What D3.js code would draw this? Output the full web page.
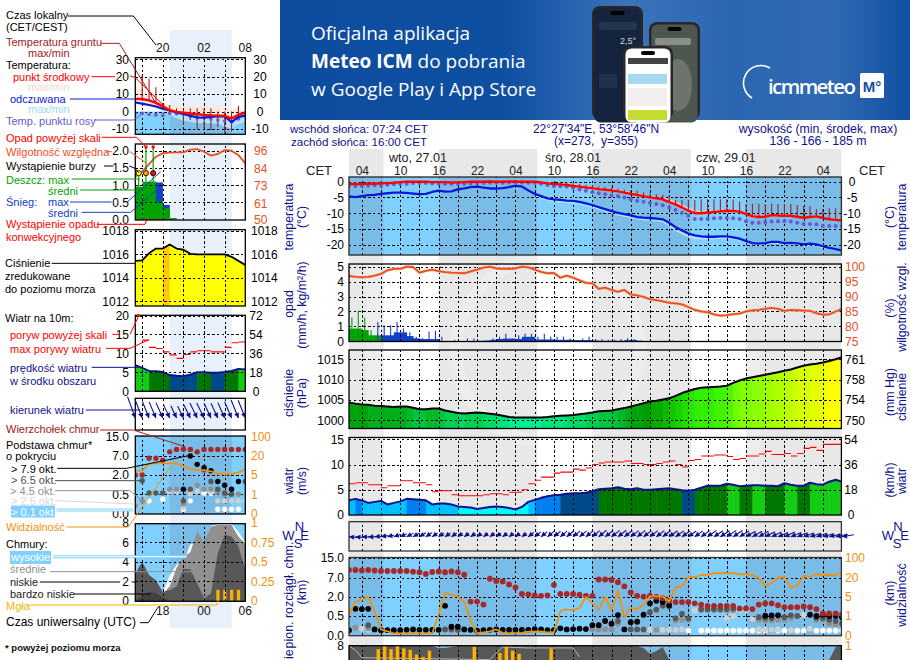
<!DOCTYPE html>
<html><head><meta charset="utf-8">
<style>
html,body{margin:0;padding:0;background:#fff;overflow:hidden}
svg{display:block;font-family:"Liberation Sans",Arial,sans-serif;font-size:12px}
.g line{stroke:#000;stroke-dasharray:2.4,2.4;stroke-width:1;shape-rendering:crispEdges}
</style>
<script src="https://cdnjs.cloudflare.com/ajax/libs/d3/7.8.5/d3.min.js"></script>
</head><body>
<script>
const n=null;
/* ---------- main chart, hourly from 02:00 on 27.01 ---------- */
const tempMid=[-0.8,-0.8,-0.8,-0.7,-0.7,-0.6,-0.5,-0.4,-0.2,-0.1,-0.1,-0.1,-0.1,-0.2,-0.2,-0.2,-0.3,-0.3,-0.2,-0.1,-0.1,-0.1,0,-0.1,-0.1,0,0,-0.1,-0.1,-0.1,-0.3,-0.6,-0.8,-0.9,-1.1,-1.4,-1.6,-1.9,-2.1,-2.4,-2.6,-2.8,-3.1,-3.5,-3.9,-4.2,-4.6,-5,-5.3,-5.6,-6.5,-7.2,-8.2,-9.2,-10,-10,-9.8,-9.6,-9.4,-9.2,-9.3,-9.5,-10.3,-10.9,-11.2,-11.1,-10.6,-10.7,-10.8,-10.8,-11.1,-11.4,-11.2,-11,-11.5,-11.9,-12.1,-12.3];
const tempMax=[-0.5,-0.5,-0.5,-0.4,-0.4,-0.3,-0.2,-0.1,0.1,0.2,0.2,0.2,0.2,0.1,0.1,0.1,0,0,0.1,0.2,0.2,0.2,0.3,0.2,0.2,0.3,0.3,0.2,0.2,0.2,0,-0.2,-0.4,-0.5,-0.7,-0.9,-1.1,-1.4,-1.6,-1.9,-2.1,-2.3,-2.6,-3,-3.4,-3.7,-4.1,-4.5,-4.8,-5,-5.6,-6.3,-7.2,-8.3,-9.1,-9.2,-9.1,-9,-8.9,-8.8,-8.9,-9.1,-9.7,-10.3,-10.7,-10.6,-10.2,-10.3,-10.4,-10.4,-10.7,-11,-10.8,-10.7,-11.1,-11.5,-11.7,-11.9];
const tempMin=[-1.1,-1.1,-1.1,-1,-1,-0.9,-0.8,-0.7,-0.5,-0.4,-0.4,-0.4,-0.4,-0.5,-0.5,-0.5,-0.6,-0.6,-0.5,-0.4,-0.4,-0.4,-0.3,-0.4,-0.4,-0.3,-0.3,-0.4,-0.4,-0.4,-0.6,-0.9,-1.1,-1.2,-1.4,-1.7,-1.9,-2.2,-2.4,-2.7,-2.9,-3.1,-3.4,-3.8,-4.2,-4.5,-4.9,-5.3,-5.6,-5.9,-6.8,-7.5,-8.5,-9.5,-10.3,-10.3,-10.1,-9.9,-9.7,-9.5,-9.6,-9.8,-10.6,-11.2,-11.5,-11.4,-10.9,-11,-11.1,-11.1,-11.4,-11.7,-11.5,-11.3,-11.8,-12.2,-12.4,-12.6];
const groundMax=[-0.3,-0.3,-0.3,-0.2,-0.2,-0.1,0,0.1,0.2,0.2,0.2,0.2,0.2,0.1,0.1,0.1,0,0,0.1,0.2,0.2,0.2,0.3,0.2,0.2,0.3,0.3,0.2,0.2,0.2,0,-0.1,-0.2,-0.2,-0.3,-0.6,-0.8,-1,-1.2,-1.5,-1.7,-1.9,-2.2,-2.6,-2.8,-2.9,-3.4,-3.8,-4,-4.2,-4.5,-5.8,-5.8,-5.8,-5.8,-5.6,-5.6,-5.6,-5.6,-5.6,-5.7,-6.3,-7,-7,-7,-7.2,-7,-7.1,-7.1,-7.1,-7.4,-7.7,-7.7,-8.7,-8.7,-8.4,-8.4,-9];
const dewPoint=[-1.3,-1.4,-1.3,-1.3,-1.2,-1.2,-1,-0.9,-0.8,-0.7,-0.5,-0.5,-0.5,-0.6,-0.7,-0.7,-0.7,-0.8,-0.7,-0.6,-0.5,-0.5,-0.4,-0.4,-0.4,-0.3,-0.2,-0.3,-0.4,-0.4,-0.7,-1.1,-1.4,-1.5,-1.6,-2,-2.5,-2.9,-3.4,-3.7,-4,-4.3,-4.6,-5,-5.6,-6.1,-6.4,-6.8,-7.1,-7.5,-8.2,-9,-9.9,-10.8,-11.8,-11.8,-11.7,-11.6,-11.5,-11.5,-11.6,-11.8,-12.5,-13,-13,-12.8,-12.6,-12.5,-12.5,-12.6,-13,-13.4,-13.4,-13.5,-14,-14,-14,-14];
const feels=[-4.7,-4.9,-4.6,-4.3,-4.2,-3.9,-3.7,-3.5,-3.5,-3.6,-3.8,-4,-3.9,-3.3,-2.9,-3.2,-3.1,-2.5,-2.2,-1.8,-1.6,-1.9,-2.2,-2.2,-2.1,-1.8,-1.3,-1.6,-2.8,-3.9,-4.6,-5.3,-5.6,-5.8,-6,-6.1,-6.4,-6.9,-7.4,-8.1,-8.7,-9.3,-9.9,-10.3,-10.7,-11.2,-11.4,-11.5,-11.7,-11.9,-13,-14.4,-15.4,-16.4,-17,-17.3,-17.4,-17.4,-17.3,-17.3,-17.6,-18,-18.8,-19.4,-19.6,-19.4,-19,-19,-19.4,-19.3,-19.5,-19.8,-19.6,-19.8,-20.4,-20.9,-21.3,-21.8];
const feelsLow=[-5,-5.2,-4.9,-4.6,-4.5,-4.2,-4,-3.8,-3.8,-3.9,-4.1,-4.3,-4.2,-3.6,-3.2,-3.5,-3.4,-2.8,-2.5,-2.1,-1.9,-2.2,-2.5,-2.5,-2.4,-2.1,-1.6,-2,-3.4,-4.6,-5.4,-6.1,-6.4,-6.6,-6.8,-6.9,-7.2,-7.7,-8.2,-8.9,-9.5,-10.1,-10.7,-11.1,-11.5,-12,-12.2,-12.3,-12.5,-12.8,-14.1,-15.6,-16.6,-17.6,-18.1,-18.2,-18.2,-18.1,-18,-18,-18.3,-18.7,-19.5,-20,-20.2,-20,-19.6,-19.6,-20,-19.9,-20.1,-20.4,-20.2,-20.4,-21,-21.4,-21.8,-22.2];
const humidity=[96.9,96.6,96.5,96.6,97,97.6,98.8,99.3,99.3,100,99.9,98,98.6,99,98.5,98.2,98,97.9,97.8,98.4,99,99.7,100,99.4,99.3,99.3,99.4,100,99.8,99,98.3,97.8,97.9,96.3,97,96.3,95.4,94.6,94.4,92.6,93,92.2,91.6,92.2,90.7,90.4,89.9,89.1,88.8,88.4,87.9,87.7,87.4,86.5,85.5,85,84.7,84,83.6,83.8,84.1,84.3,85,85.4,85.5,85.9,86.2,85.9,85.2,85.5,85.4,85.3,85.2,84.4,83.9,84,85,85.9];
const rainMean=[0.85,0.85,0.75,0.4,0.4,0.3,0.25,0.05];
const rainTop=[1.6,2.07,1.6,0.75,0.5];
const snowMean=[[5,.4],[6,.4],[7,.6],[8,.6],[9,.35],[10,.2],[11,.15],[12,.15],[13,.15],[14,.02],[15,.02],[16,.02],[17,.02],[18,.02],[19,.02],[20,.03],[21,.05],[22,.1],[23,.15],[24,.18],[25,.18],[26,.15],[27,.3],[28,.3],[29,.12],[30,.12],[31,.12],[32,.1],[33,.1],[34,.1],[35,.08],[36,.08],[37,.08],[38,.05],[39,.03],[40,.03],[41,.03],[42,.03],[43,.08],[44,.08],[45,.03],[46,.02]];
const snowTop=[[4,1.3],[5,1.07],[6,1.07],[7,1.3],[8,.85],[9,.6],[10,.3],[11,.2],[12,.65],[13,.7],[14,.3],[16,.1],[18,.18],[19,.18],[22,.18],[23,.3],[24,.5],[25,.18],[26,.4],[27,.5],[28,.5],[29,.3],[30,.5],[31,.3],[32,.3],[33,.33],[34,.18],[36,.18],[37,.3],[38,.15],[39,.15],[40,.1],[41,.1],[42,.15],[43,.2],[44,.15],[45,.05],[50,.05]];
const pressure=[1004.4,1004.1,1003.9,1003.8,1003.6,1003.5,1003.4,1003.3,1003.4,1003.4,1003.1,1002.7,1002.7,1002.9,1002.9,1002.4,1002.1,1001.8,1001.7,1001.8,1001.9,1001.8,1001.6,1001.4,1001.1,1000.8,1000.7,1000.7,1000.7,1000.7,1000.7,1000.8,1001,1001.1,1001.2,1001.3,1001.5,1001.7,1001.9,1002.2,1002.3,1002.4,1002.7,1003,1003.4,1003.8,1004.2,1004.6,1004.8,1005.1,1005.4,1006,1006.7,1007.2,1007.7,1008,1008.1,1008.2,1008.3,1008.5,1009.2,1009.8,1010.3,1010.6,1010.9,1011.2,1011.5,1011.8,1012.2,1012.5,1013,1013.4,1013.7,1013.9,1014.2,1014.6,1015,1015.5];
const wind=[2.9,3.2,2.9,2.4,2.6,2.8,2.1,2.4,2.7,3.2,3.1,3,2.9,2.1,2.3,2.3,2.1,1.7,1.6,1.5,1.2,1.4,1.6,1.7,1.6,1.4,1.1,1.6,2.6,3,3.4,3.7,3.9,4,4.2,4.3,4.3,4.4,4.7,5.1,5.2,5.3,5.5,5.2,5.1,5.3,5,5,5.1,5.2,5.3,5.1,4.9,4.8,5,5.4,5.8,5.8,5.8,6.2,6,5.7,5.8,5.9,5.9,5.8,5.8,5.7,6.3,6,5.8,5.8,6.4,6.1,6,6.6,7,6.6];
const gust=[6.2,6.4,6.4,6,6,5.4,5.8,5.8,6.8,6.8,6.4,6.4,6,4.6,4.8,4.8,4,3.8,3.8,3.8,3.8,4,4.2,4.2,4,4.5,4.5,5,6.2,6.9,7.5,7.5,8.3,8.5,8.5,9.1,8.9,9.3,10,10.3,10.5,10.5,10.5,10.7,10.2,10.2,10,10,10.2,10.5,10.7,10,9.5,10.8,11,11.7,11.7,11.9,11.9,11.6,11,11.2,11.7,11.7,12.1,12.6,12,12,12.2,11.7,12.2,13.2,13.4,12.8,14,14,14];
const direction=[95,95,92,90,85,80,75,70,65,62,60,58,56,55,55,54,54,53,53,55,52,52,52,52,52,52,52,52,52,52,50,50,50,50,50,50,50,50,50,50,52,52,52,52,52,52,52,52,52,52,54,54,54,54,54,54,54,56,56,56,56,58,60,60,60,62,64,66,66,68,68,70,72,72,74,76,78,80];
const cloudTop=[10.2,10.2,10,10.2,10,9.8,9.8,9.8,9.8,9.8,9.5,9.3,8.6,9.4,9.6,9.3,9.6,9.3,8.3,1.64,1.64,1.4,6.8,6.2,6.1,5.3,4.5,2.8,2.7,2.4,2.3,2.4,5.2,2.8,2.8,2.8,2.6,2.3,2.3,6.6,6.6,6.5,5.9,4.8,3.2,2.3,2.1,2.3,2,1.9,1.7,1.6,1.6,1.6,1.5,1.4,1.3,1.3,1.3,1.3,1.3,1.1,1.1,1.05,1.4,1.5,1.5,1.35,1.2,1.2,1.2,1.25,1.2,1.05,.7,.7,.7,.65];
const base79=[.13,1.07,1.05,1.07,.15,.13,.13,.13,.13,.14,.15,.14,.14,.14,.14,1.3,.22,.22,.15,.14,.12,.13,.14,.15,.14,.14,.14,.14,.14,.16,.15,.13,.13,.18,.15,.16,.17,.16,.26,.26,.37,.3,.57,.15,.34,.35,.6,1.5,1.7,1.6,1.35,n,n,n,n,n,n,n,n,n,n,n,n,n,n,.52,.55,.55,n,n,n,n,.6,.5,.6,.5,.52,.46];
const base65=[[3,.26],[15,.15],[16,.16],[17,.14],[42,.37],[44,.15],[45,.15],[46,.15],[47,.8],[48,1],[49,1.3],[50,1.25],[51,.44],[52,.67],[53,.44],[55,1.05],[56,1.05],[57,1.05],[58,1.05],[59,1.05],[60,1.1],[64,.47],[65,.45],[66,.44],[68,.47],[69,.55],[70,.5],[73,.45],[74,.45],[75,.4],[76,.37],[77,.3]];
const base45=[[1,.19],[3,.18],[15,.15],[16,.13],[17,.13],[38,.15],[39,.15],[40,.15],[41,.15],[42,.3],[48,.14],[51,.38],[52,.4],[53,.4],[55,.95],[56,.95],[57,.95],[58,.95],[59,.95],[60,.95],[64,.4],[65,.38],[66,.38],[67,.4],[68,.4],[69,.45],[73,.4],[74,.4],[75,.3],[76,.28]];
const base25=[[2,.17],[3,.14],[43,.14],[47,.14],[48,.14],[49,.14],[50,.14],[51,.14],[52,.15],[54,.95],[55,1],[59,.45],[60,.52],[61,1],[62,1],[63,.42],[64,.15],[65,.14],[66,.14],[67,.15],[69,.13],[71,.6],[72,.17]];
const base01=[[53,.12],[55,.12],[56,.12],[57,.12],[58,.12],[59,.12],[60,.12],[61,.12],[62,.12],[63,.12],[64,.12],[65,.12],[67,.12],[68,.12],[70,.12],[71,.12],[73,.12],[74,.12],[75,.12],[76,.12],[77,.12]];
const visibility=[1.35,4,4.4,5.5,2,.3,.2,.1,.1,.1,.1,.1,.1,.1,1.3,8.2,6.8,5.5,4,.75,.1,.15,.2,.3,.12,.1,.1,.12,.18,.18,.2,.15,.14,2,2.4,2.2,2.7,5,3.7,2.4,5,2.2,10,.95,2.7,2.4,3.3,5.5,5.5,5.5,4,12.6,13.4,25,24,32,33,39,39,40,40,35,35,32,20,14,16,21,24,12.6,14,28,25,36,32,33,30,49];
const lowCover=[8,8,8,8,8,8,8,8,8,8,8,8,8,8,7.8,7.8,7.9,8,8,8,8,8,8,8,8,8,8,8,8,8,8,8,8,8,8,8,8,8,8,8,8,8,8,8,8,8,7.8,7.2,7.5,7.9,6.6,6,6,6,6,6,6,6,6,6,6,6,6,6,6,6,6,6,6,6,6,6,6,6,6.3,6.6,7.9,8];
const highCover=[[0,8],[1,7.6],[2,6.8],[22,6.6],[23,7.3],[24,7.9],[28,7.8],[33,7.8],[35,7.8],[36,6.9]];
const fog=[[4,.96],[5,1],[6,.96],[7,1],[8,.97],[9,.95],[10,.89],[11,.86],[12,.94],[19,.99],[23,.91],[24,.99],[25,.94],[26,.9],[31,.97]];
const nightEdges=[0,5.4,14,29.4,38,53.4,62,76.9];
/* ---------- legend chart, 17 hours ---------- */
const legMid=[7.3,7.2,6.4,5,3,.8,-.2,-.6,-1.1,-1.5,-1.9,-2.2,-2.3,-2.5,-4,-1.9,-.4];
const legMax=[14,12.5,8.7,6.7,4.8,3.8,3.3,2.9,2.9,2.9,2.9,2.5,2.5,1.9,1,1.9,0];
const legMin=[5.8,4.8,3.3,1.9,0,-.6,-1.3,-2.9,-3.8,-4.4,-4.4,-4.8,-4.4,-4.4,-6.3,-3.3,-1.9];
const legFeels=[5.2,4.6,3.8,2.9,1.6,.6,-.5,-1.3,-2.4,-3.3,-3.5,-3,-2.6,-2.7,-6,-3,-2.3];
const legFeelsLow=[5.2,4.6,3.8,2.9,0,-1.9,-3.8,-5.2,-5.8,-6.7,-6.7,-6.7,-7.1,-8.7,-9.6,-7.1,-5.8];
const legDew=[-1,-1,-1.5,-1.9,-2.3,-1,-1.3,-1.5,-2.9,-3.7,-3.5,-4.2,-4.8,-5.4,-6,-4.2,-2.5];
const legGroundTop=[n,21,19,14,5,3.8,1.9,1,1.9,1.9,1.9,1.9,0,0,0,3.2,0];
const legGroundLow=[n,7.2,6.7,4.8,2,-1.9,-1.9,-7.7,-4.8,-10.6,-9.6,-10.6,-8.7,-12.5,-11.5,-3.9,-2.9];
const legHumidity=[78.7,82,87,92,94.2,94.7,94.9,94.9,96.7,97,95.3,92.7,93.8,96.4,96,93,87.5];
const legRain=[.96,1.1,1.1,.52,.33,.05];
const legSnow=[n,n,n,1.08,.43];
const legRainTop=[1.35,2.1,2.1];
const legStorm=["#ffff00","#ffa500","#ff0000"];
const legPressure=[1015.45,1015.5,1016.1,1016.5,1016.5,1016.85,1016.5,1016.4,1016.05,1016,1016,1016,1016,1016,1015.8,1015.45,1015.1];
const legWind=[6.9,6.2,5.4,5.3,5.1,4.3,4.1,4,4.4,5.05,5.05,4.9,4.9,5.1,5.4,5.9,5.8];
const legGust=[n,13.5,11.6,11.3,10.4,9.6,8.7,9.7,10.4,10.7,10.7,10.4,10.4,11.6,12.8,13];
const legDir=[340,339,338,337,336,335,335,334,334,334,334,335,335,336,337,338,338];
const legTop=[2,2,6.4,6.4,5.9,8.7,9.7,9.8,9.7,8.7,9.7,9.7,9.7,9.7,9.7,9.7,9.7];
const leg79=[n,n,n,n,n,n,n,.9,7,4.8,3.9,3.1,1.5,1.2,.9,1.5,n];
const leg65=[n,1.55,.6,.6,.6,n,n,.33,.9,n,3.3,1.5,.9,.6,.5,n,1.5];
const leg45=[.2,.33,n,n,n,.9,.9,.25,n,1.2,.9,.9,.7,.5,.5,.5,n];
const leg25=[.2,n,n,n,n,.7,.7,.15,.55,.75,n,.7,.33,.33,.33,.33,.33];
const leg01=[n,n,.33,n,.37,n,n,.11,.33,n,.6,.6,.11,.11,.11,.11,n];
const legVis=[8.4,8.4,13.7,14.2,14.2,14.2,14.2,12,9.5,9,8.8,7.8,6,5.8,5.8,7,9.5];
const legVeryLow=[0,.5,.9,.8,.3,0,0,0,0,0,0,0,0,0,0,0,0];
const legLow=[2.8,4,2.65,2.1,.9,1.1,1.45,3.3,3.2,1.8,.25,.75,4.9,6.8,6.6,5.6,3.2];
const legMidC=[0,0,0,0,.7,1.5,3.4,4.5,5,7.1,6.1,7.65,7.8,7.8,7.8,6.6,5.9];
const legHigh=[0,0,0,0,.9,2.6,3.7,4,5.8,5.8,5.9,7.7,7.9,7.9,7.9,7.1,6];
const legFog=[[12,.14],[13,.14],[14,.14],[15,.14]];
/* ---------- tick labels ---------- */
const hourTicks=[2,8,14,20,26,32,38,44,50,56,62,68,74];
const hourLabels=["04","10","16","22","04","10","16","22","04","10","16","22","04"];
const gridHours=d3.range(2,77,3);
const legGridHours=[1,4,7,10,13];
const legTimeTop=["20","02","08"], legTimeBottom=["18","00","06"], legTimePos=[4,10,16];
const baseTicks=[0,.5,2,7,15], visTicks=[0,1,5,20,100];

/* ---------- colours ---------- */
const C={navy:"#10108c",day:"#80d0ff",night:"#7abce8",red:"#ff0000",dark:"#a42020",feels:"#0418d8",dew:"#6a5acd",rh:"#e8501e",vis:"#f09010",green:"#00a400",snow:"#1040cc",fog:"#ffb000"};
const pressColor=d3.scaleLinear()
  .domain([1000.5,1002,1003,1004.4,1006,1008,1010.5,1013,1015,1016.7,1016.8])
  .range(["#00f090","#00d050","#00b828","#009a00","#10c800","#30f000","#80ff00","#c8ff00","#ffff00","#ffff00","#ffdc00"]);
const windColor=d3.scaleThreshold().domain([2,3,4,5,5.85])
  .range(["#00f8ff","#00c0ff","#0080f0","#004a8a","#007800","#14cc14"]);

const svg=d3.select("body").append("svg").attr("width",910).attr("height",660);
const defs=svg.append("defs");
svg.append("rect").attr("width",910).attr("height",660).attr("fill","#fff");

/* ---------- helpers ---------- */
let uid=0;
function txt(x,y,s,o={}){
  const e=(o.g||svg).append("text").attr("x",x).attr("y",y).text(s).attr("fill",o.fill||"#000")
   .attr("font-size",o.size||12).attr("text-anchor",o.anchor||"start");
  if(o.weight)e.attr("font-weight",o.weight);
  if(o.family)e.attr("font-family",o.family);
  return e;
}
function vtxt(x,y,s,o={}){
  return txt(0,0,s,Object.assign({fill:C.navy,size:12.4,anchor:"middle"},o)).attr("transform",`translate(${x},${y}) rotate(-90)`);
}
function clipped(x,top,bottom){
  const id="c"+(++uid);
  defs.append("clipPath").attr("id",id).append("rect").attr("x",x.range()[0]).attr("y",top)
    .attr("width",x.range()[1]-x.range()[0]).attr("height",bottom-top);
  return svg.append("g").attr("clip-path",`url(#${id})`);
}
function grid(g,x,y,top,bottom,xt,yt){
  g.append("g").attr("class","g").attr("transform",`translate(0,${bottom})`)
   .call(d3.axisBottom(x).tickValues(xt).tickSize(-(bottom-top)).tickFormat(""))
   .call(s=>s.select(".domain").remove());
  if(yt&&yt.length) g.append("g").attr("class","g").attr("transform",`translate(${x.range()[0]},0)`)
   .call(d3.axisLeft(y).tickValues(yt).tickSize(-(x.range()[1]-x.range()[0])).tickFormat(""))
   .call(s=>s.select(".domain").remove());
}
function border(x,top,bottom,c="#000",w=1.3){
  svg.append("rect").attr("x",x.range()[0]).attr("y",top).attr("width",x.range()[1]-x.range()[0])
    .attr("height",bottom-top).attr("fill","none").attr("stroke",c).attr("stroke-width",w);
}
function axis(side,scale,ticks,pos,o={}){
  const a=(side==="l"?d3.axisLeft(scale):d3.axisRight(scale)).tickValues(ticks).tickSize(0).tickPadding(0);
  a.tickFormat(o.fmt||(d=>String(d)));
  const g=svg.append("g").attr("transform",`translate(${pos},0)`).call(a);
  g.select(".domain").remove();
  g.selectAll("text").attr("fill",o.color||"#000").attr("font-size",o.size||12).attr("font-family","inherit");
  if(o.anchor)g.selectAll("text").attr("text-anchor",o.anchor);
}
function band(g,x,y,hi,lo,fill){
  g.append("path").datum(hi.map((v,i)=>[i,v,lo[i]]))
   .attr("d",d3.area().x(d=>x(d[0])).y0(d=>y(d[1])).y1(d=>y(d[2]))).attr("fill",fill);
}
function line(g,x,y,vals,c,w){
  g.append("path").datum(vals.map((v,i)=>[i,v])).attr("fill","none").attr("stroke",c).attr("stroke-width",w)
   .attr("stroke-linejoin","round").attr("d",d3.line().defined(d=>d[1]!=null).x(d=>x(d[0])).y(d=>y(d[1])));
}
function colored(g,x,y,vals,color,bottom){
  const id="c"+(++uid);
  defs.append("clipPath").attr("id",id).append("path").datum(vals.map((v,i)=>[i,v]))
   .attr("d",d3.area().x(d=>x(d[0])).y0(bottom).y1(d=>y(d[1])));
  const s=g.append("g").attr("clip-path",`url(#${id})`);
  s.selectAll("rect").data(vals.slice(0,-1)).join("rect")
   .attr("x",(d,i)=>x(i)).attr("width",(d,i)=>x(i+1)-x(i)+.5).attr("y",y.range()[1]-10)
   .attr("height",bottom-y.range()[1]+10).attr("fill",(d,i)=>color(i));
}
function dots(g,x,y,pairs,fill,r){
  g.selectAll(null).data(pairs.filter(d=>d[1]!=null)).join("circle")
   .attr("cx",d=>x(d[0])).attr("cy",d=>y(d[1])).attr("r",r).attr("fill",fill);
}
const pairs=a=>a.map((v,i)=>[i,v]);
function nightShade(g,x,edges,top,bottom){
  g.append("rect").attr("x",x.range()[0]).attr("y",top).attr("width",x.range()[1]-x.range()[0]).attr("height",bottom-top).attr("fill",C.day);
  for(let k=0;k<edges.length-1;k+=2)
    g.append("rect").attr("x",x(edges[k])).attr("y",top).attr("width",x(edges[k+1])-x(edges[k])).attr("height",bottom-top).attr("fill",C.night);
}
function arrows(x,cy,dirs,len){
  const g=svg.append("g");
  dirs.forEach((d,i)=>{
    const a=d*Math.PI/180, sx=Math.sin(a), sy=-Math.cos(a), px=x(i), L=len(i);
    g.append("line").attr("x1",px).attr("y1",cy).attr("x2",px+L*sx).attr("y2",cy+L*sy).attr("stroke",C.navy).attr("stroke-width",1.1);
    const b=5,w=2.6,hx=px+b*sx,hy=cy+b*sy;
    g.append("polygon").attr("fill",C.navy)
     .attr("points",`${px},${cy} ${hx-w*sy},${hy+w*sx} ${hx+w*sy},${hy-w*sx}`);
  });
}

/* ---------- banner ---------- */
const gr=defs.append("linearGradient").attr("id","ban");
[[0,"#0d4c9e"],[.36,"#0f4fa2"],[.55,"#3b74bb"],[.72,"#2b66b0"],[.88,"#2f6ab3"],[1,"#104fa2"]]
  .forEach(s=>gr.append("stop").attr("offset",s[0]).attr("stop-color",s[1]));
svg.append("rect").attr("x",280).attr("y",0).attr("width",630).attr("height",120).attr("fill","url(#ban)");
const BF="'Open Sans',sans-serif";
txt(311,40,"Oficjalna aplikacja",{fill:"#fff",size:19,family:BF});
const l2=txt(311,68,"",{fill:"#fff",size:19,family:BF});
l2.append("tspan").attr("font-weight",700).text("Meteo ICM");
l2.append("tspan").text(" do pobrania");
txt(311,96,"w Google Play i App Store",{fill:"#fff",size:19,family:BF});
const ph=svg.append("g");
function phone(x,y,w,h,scr){
  ph.append("rect").attr("x",x).attr("y",y).attr("width",w).attr("height",h).attr("rx",8).attr("fill","#26282c");
  ph.append("rect").attr("x",x+2.5).attr("y",y+2.5).attr("width",w-5).attr("height",h).attr("rx",6).attr("fill",scr);
  ph.append("rect").attr("x",x+w/2-7).attr("y",y+5).attr("width",14).attr("height",4).attr("rx",2).attr("fill","#000");
}
phone(592,6,51,114,"#14243c");
ph.append("rect").attr("x",599).attr("y",22).attr("width",38).attr("height",8).attr("rx",2).attr("fill","#24344c");
txt(620,44,"2,5°",{fill:"#cfd8e4",size:9,g:ph});
ph.append("rect").attr("x",599).attr("y",74).attr("width",18).attr("height",14).attr("fill","#20304a");
phone(649,22,51,98,"#4e5650");
ph.append("rect").attr("x",655).attr("y",38).attr("width",36).attr("height",7).attr("rx",2).attr("fill","#8a8f8a");
ph.append("ellipse").attr("cx",678).attr("cy",85).attr("rx",14).attr("ry",26).attr("fill","#6e746c");
phone(623,46,50,74,"#ffffff");
ph.append("rect").attr("x",628).attr("y",58).attr("width",40).attr("height",6).attr("fill","#444");
ph.append("rect").attr("x",628).attr("y",74).attr("width",39).attr("height",10).attr("fill","#a6d8ef");
ph.append("rect").attr("x",628).attr("y",88).attr("width",39).attr("height",18).attr("fill","#f4eeee");
ph.append("rect").attr("x",628).attr("y",110).attr("width",39).attr("height",10).attr("fill","#c4dc30");
txt(768,94,"icmmeteo",{fill:"#fff",size:20.5,weight:600,family:BF}).attr("textLength",88);
svg.append("path").attr("d","M770,68 A17,17 0 0 0 752,98").attr("fill","none").attr("stroke","#fff").attr("stroke-width",1.6);
svg.append("rect").attr("x",860).attr("y",73).attr("width",24).attr("height",25).attr("rx",1.5).attr("fill","#fff");
txt(872,92,"M°",{fill:"#1650a0",size:15,weight:700,anchor:"middle"});

/* ---------- legend column ---------- */
const lx=d3.scaleLinear().domain([0,16]).range([135.3,245.3]);
svg.append("rect").attr("x",lx(5.05)).attr("y",30).attr("width",lx(14.03)-lx(5.05)).attr("height",598).attr("fill","#e8f0fc");

/* ---------- main bands ---------- */
const mx=d3.scaleLinear().domain([0,76.9]).range([349,841.4]);
for(let k=0;k<nightEdges.length-1;k+=2)
  svg.append("rect").attr("x",mx(nightEdges[k])).attr("y",149).attr("width",mx(nightEdges[k+1])-mx(nightEdges[k])).attr("height",511).attr("fill","#e8e8e8");
svg.append("circle").attr("cx",548).attr("cy",350).attr("r",92).attr("fill","none").attr("stroke","#fff").attr("stroke-width",12).attr("opacity",.22);
svg.append("path").attr("d","M374,262 V440 M712,350 V500 M752,350 V500").attr("fill","none").attr("stroke","#fff").attr("stroke-width",16).attr("opacity",.22);

/* ---------- main: temperature ---------- */
{
 const top=177,bot=255,y=d3.scaleLinear().domain([0,-20]).range([181.5,245]);
 const g=clipped(mx,top,bot);
 nightShade(g,mx,nightEdges,top,bot);
 band(g,mx,y,tempMax,tempMin,"#f8c8c8");
 band(g,mx,y,feels,feelsLow,"#b4e2ff");
 grid(g,mx,y,top,bot,gridHours,[0,-5,-10,-15,-20]);
 g.selectAll(null).data(groundMax).join("line").attr("x1",(d,i)=>mx(i)).attr("x2",(d,i)=>mx(i))
  .attr("y1",(d,i)=>y(tempMid[i])).attr("y2",d=>y(d)).attr("stroke",C.dark).attr("stroke-width",1.1);
 dots(g,mx,y,pairs(dewPoint),C.dew,2);
 line(g,mx,y,feels,C.feels,2.3);
 line(g,mx,y,tempMid,C.red,2.4);
 border(mx,top,bot,"#333",1.4);
 axis("l",y,[0,-5,-10,-15,-20],344);
 axis("r",y,[0,-5,-10,-15,-20],852,{anchor:"middle"});
}
/* ---------- main: precipitation and humidity ---------- */
{
 const top=264,bot=341.5,y=d3.scaleLinear().domain([0,5]).range([341.3,266.7]);
 const rh=d3.scaleLinear().domain([75,100]).range([341.3,266.7]);
 const g=clipped(mx,top,bot);
 g.selectAll(null).data(rainMean).join("rect").attr("x",(d,i)=>mx(i)).attr("width",6.9).attr("y",d=>y(d)).attr("height",d=>y(0)-y(d)).attr("fill",C.green);
 g.selectAll(null).data(snowMean).join("rect").attr("x",d=>mx(d[0])).attr("width",6.9).attr("y",d=>y(d[1])).attr("height",d=>y(0)-y(d[1])).attr("fill",C.snow);
 g.selectAll(null).data(rainTop).join("line").attr("x1",(d,i)=>mx(i+.45)).attr("x2",(d,i)=>mx(i+.45)).attr("y1",y(0)).attr("y2",d=>y(d)).attr("stroke",C.green).attr("stroke-width",1.1);
 g.selectAll(null).data(snowTop).join("line").attr("x1",d=>mx(d[0]+.5)).attr("x2",d=>mx(d[0]+.5)).attr("y1",y(0)).attr("y2",d=>y(d[1])).attr("stroke",C.snow).attr("stroke-width",1.1);
 grid(g,mx,y,top,bot,gridHours,[1,2,3,4,5]);
 line(g,mx,rh,humidity,"#f8c0a8",3);
 line(g,mx,rh,humidity,C.rh,1.8);
 border(mx,top,bot);
 axis("l",y,[0,1,2,3,4,5],344);
 axis("r",rh,[75,80,85,90,95,100],845,{color:C.rh});
}
/* ---------- main: pressure ---------- */
{
 const top=350,bot=428.5,y=d3.scaleLinear().domain([1000,1015]).range([420.3,359.3]);
 const mm=d3.scaleLinear().domain([750,754,758,761]).range([420.3,400,379.3,359.3]);
 const g=clipped(mx,top,bot);
 colored(g,mx,y,pressure,i=>pressColor(Math.round(pressure[i+1]*2)/2),bot);
 grid(g,mx,y,top,bot,gridHours,[1000,1005,1010,1015]);
 line(g,mx,y,pressure,"#000",2);
 border(mx,top,bot);
 axis("l",y,[1000,1005,1010,1015],344);
 axis("r",mm,[750,754,758,761],845);
}
/* ---------- main: wind ---------- */
{
 const top=437.5,bot=515,y=d3.scaleLinear().domain([0,15]).range([515,439.3]);
 const km=d3.scaleLinear().domain([0,54]).range([515,439.3]);
 const g=clipped(mx,top,bot);
 colored(g,mx,y,wind,i=>windColor(wind[i]),bot);
 grid(g,mx,y,top,bot,gridHours,[5,10,15]);
 g.selectAll(null).data(gust).join("line").attr("x1",(d,i)=>mx(i)).attr("x2",(d,i)=>mx(i+1)).attr("y1",d=>y(d)).attr("y2",d=>y(d)).attr("stroke",C.red).attr("stroke-width",1.1);
 line(g,mx,y,wind,C.navy,2);
 border(mx,top,bot);
 axis("l",y,[0,5,10,15],344);
 axis("r",km,[0,18,36,54],851,{anchor:"middle"});
}
/* ---------- main: wind direction ---------- */
{
 const top=521.7,bot=551,g=clipped(mx,top,bot);
 grid(g,mx,null,top,bot,gridHours,[]);
 border(mx,top,bot,"#333",1.3);
 arrows(mx,536.8,direction,i=>4+1.2*wind[i]);
}
/* ---------- main: cloud base ---------- */
{
 const top=557.5,bot=635.7;
 const rng=[635.2,616,597,578,558];
 const y=d3.scaleLinear().domain(baseTicks).range(rng), v=d3.scaleLinear().domain(visTicks).range(rng);
 const g=clipped(mx,top,bot);
 nightShade(g,mx,nightEdges,top,bot);
 grid(g,mx,y,top,bot,gridHours,[.5,2,7,15]);
 dots(g,mx,y,base01,"#fff",2.9);
 dots(g,mx,y,base25,"#d0d0d0",2.9);
 dots(g,mx,y,base45,"#909090",2.9);
 dots(g,mx,y,base65,"#585858",2.9);
 dots(g,mx,y,pairs(base79),"#000",2.9);
 dots(g,mx,y,pairs(cloudTop),"#a82828",2.9);
 line(g,mx,v,visibility,C.vis,1.8);
 border(mx,top,bot,"#333");
 axis("l",y,baseTicks,344,{fmt:d3.format(".1f")});
 axis("r",v,visTicks,845,{color:C.vis});
}
/* ---------- main: cloud cover (runs off the page) ---------- */
{
 const top=645.7,bot=724,y=d3.scaleLinear().domain([0,8]).range([724,646]),f=d3.scaleLinear().domain([0,1]).range([724,646]);
 const g=clipped(mx,top,bot);
 nightShade(g,mx,nightEdges,top,bot);
 g.append("path").datum(pairs(lowCover)).attr("fill","#585858").attr("d",d3.area().x(d=>mx(d[0])).y0(bot).y1(d=>y(d[1])));
 g.append("path").datum(highCover).attr("fill","none").attr("stroke","#b4b4b4").attr("stroke-width",1).attr("d",d3.line().x(d=>mx(d[0])).y(d=>y(d[1])));
 g.selectAll(null).data(fog).join("rect").attr("x",d=>mx(d[0]+.3)).attr("width",3.4).attr("y",d=>f(d[1])).attr("height",d=>f(0)-f(d[1])).attr("fill",C.fog);
 grid(g,mx,y,top,bot,gridHours,[6]);
 border(mx,top,bot);
 axis("l",y,[8],344);
 axis("r",f,[1],845,{color:C.vis});
}

/* ---------- main header text ---------- */
txt(290,133,"wschód słońca: 07:24 CET",{fill:C.navy,size:11.6});
txt(291,146,"zachód słońca: 16:00 CET",{fill:C.navy,size:11.6});
txt(596,133,"22°27'34\"E, 53°58'46\"N",{fill:C.navy,anchor:"middle"});
txt(596,145,"(x=273,  y=355)",{fill:C.navy,anchor:"middle"}).attr("xml:space","preserve");
txt(818,133,"wysokość (min, środek, max)",{fill:C.navy,anchor:"middle",size:12.3});
txt(818,145,"136 - 166 - 185 m",{fill:C.navy,anchor:"middle",size:12.3});
txt(389,162,"wto, 27.01",{fill:"#222",size:12.6});
txt(545,162,"śro, 28.01",{fill:"#222",size:12.6});
txt(696,162,"czw, 29.01",{fill:"#222",size:12.6});
txt(306,175,"CET",{fill:"#222",size:13});
txt(859,175,"CET",{fill:"#222",size:13});
{
 const a=d3.axisTop(mx).tickValues(hourTicks).tickSize(0).tickPadding(0).tickFormat((d,i)=>hourLabels[i]);
 const g=svg.append("g").attr("transform","translate(0,175)").call(a);
 g.select(".domain").remove();
 g.selectAll("text").attr("fill","#222").attr("font-size",12).attr("font-family","inherit");
}
vtxt(293,217,"temperatura"); vtxt(306,217,"(°C)");
vtxt(293,304,"opad"); vtxt(306,305,"(mm/h, kg/m²/h)");
vtxt(293,393,"ciśnienie"); vtxt(306,393,"(hPa)");
vtxt(293,481,"wiatr"); vtxt(306,481,"(m/s)");
vtxt(293,595,"pion. rozciągł. chm."); vtxt(306,592,"(km)");
vtxt(293,688,"zachmurzenie");
vtxt(906,217,"temperatura"); vtxt(894,217,"(°C)");
vtxt(906,307,"wilgotność wzgl."); vtxt(894,308,"(%)");
vtxt(906,397,"ciśnienie"); vtxt(894,392,"(mm Hg)");
vtxt(906,481,"wiatr"); vtxt(894,480,"(km/h)");
vtxt(906,595,"widzialność"); vtxt(894,593,"(km)");
[[299.5,531,"N"],[288.5,540,"W"],[304.5,540,"E"],[298,548,"S"],[898,531,"N"],[888,540,"W"],[904.5,540,"E"],[897,548,"S"]]
 .forEach(d=>txt(d[0],d[1],d[2],{fill:C.navy,size:13,anchor:"middle"}));

/* ---------- legend panels ---------- */
{
 const top=57.7,bot=134.3,y=d3.scaleLinear().domain([30,-10]).range([59.3,129]);
 const g=clipped(lx,top,bot);
 g.append("rect").attr("x",135).attr("y",y(0)).attr("width",111).attr("height",bot-y(0)).attr("fill",C.day);
 g.append("rect").attr("x",lx(5.05)).attr("y",y(0)).attr("width",lx(14.03)-lx(5.05)).attr("height",bot-y(0)).attr("fill",C.night);
 band(g,lx,y,legMax,legMin,"#fde6da");
 band(g,lx,y,legFeels,legFeelsLow,"#b4e2ff");
 grid(g,lx,y,top,bot,legGridHours,[30,20,10,0,-10]);
 legGroundTop.forEach((d,i)=>{if(d!=null)g.append("line").attr("x1",lx(i)).attr("x2",lx(i)).attr("y1",y(d)).attr("y2",y(legGroundLow[i])).attr("stroke",C.dark).attr("stroke-width",1.1)});
 dots(g,lx,y,pairs(legDew),C.dew,1.8);
 line(g,lx,y,legFeels,C.feels,2.2);
 line(g,lx,y,legMid,C.red,2.4);
 border(lx,top,bot);
 axis("l",y,[30,20,10,0,-10],129); axis("r",y,[30,20,10,0,-10],260,{anchor:"middle"});
}
{
 const top=144,bot=220,y=d3.scaleLinear().domain([0,2]).range([219.7,150.7]),rh=d3.scaleLinear().domain([50,96]).range([219.7,150.7]);
 const g=clipped(lx,top,bot);
 g.selectAll(null).data(legRain).join("rect").attr("x",(d,i)=>i<2?lx(i*1.05):lx(i)).attr("width",(d,i)=>i==0?7.4:i==1?14:7).attr("y",d=>y(d)).attr("height",d=>y(0)-y(d)).attr("fill",C.green);
 g.selectAll(null).data(legSnow.map((d,i)=>[i,d]).filter(d=>d[1])).join("rect").attr("x",d=>lx(d[0])).attr("width",7).attr("y",d=>y(d[1])).attr("height",d=>y(0)-y(d[1])).attr("fill",C.snow);
 g.selectAll(null).data(legRain.slice(3,5)).join("rect").attr("x",(d,i)=>lx(i+3)).attr("width",7).attr("y",d=>y(d)).attr("height",d=>y(0)-y(d)).attr("fill",C.green);
 grid(g,lx,y,top,bot,legGridHours,[.5,1,1.5,2]);
 line(g,lx,rh,legHumidity,C.rh,1.8);
 legRainTop.forEach((d,i)=>{
  g.append("line").attr("x1",lx(1.05*i+.5)).attr("x2",lx(1.05*i+.5)).attr("y1",y(0)-30).attr("y2",y(d)).attr("stroke",C.green).attr("stroke-width",1.2);
 });
 legStorm.forEach((c,i)=>g.append("circle").attr("cx",lx(1.05*i+.5)).attr("cy",y(1.35)).attr("r",2.6).attr("fill",c).attr("stroke","#000").attr("stroke-width",.8));
 [1,2].forEach(i=>g.append("rect").attr("x",lx(1.05*i+.5)-1.5).attr("y",145.5).attr("width",3).attr("height",3).attr("fill",C.red));
 g.append("line").attr("x1",lx(0)+2).attr("x2",lx(4)).attr("y1",y(0)-.3).attr("y2",y(0)-.3).attr("stroke",C.red).attr("stroke-width",1.2).attr("stroke-dasharray","2,2");
 border(lx,top,bot);
 axis("l",y,[0,.5,1,1.5,2],129,{fmt:d3.format(".1f")});
 axis("r",rh,[50,61,73,84,96],254,{color:C.rh});
}
{
 const top=229.7,bot=306,y=d3.scaleLinear().domain([1012,1018]).range([301.3,231]);
 const g=clipped(lx,top,bot);
 colored(g,lx,y,legPressure,i=>pressColor(legPressure[i+1]),bot);
 grid(g,lx,y,top,bot,legGridHours,[1012,1014,1016,1018]);
 line(g,lx,y,legPressure,"#000",1.8);
 border(lx,top,bot);
 axis("l",y,[1012,1014,1016,1018],129); axis("r",y,[1012,1014,1016,1018],251);
}
{
 const top=315.3,bot=391.3,y=d3.scaleLinear().domain([0,20]).range([391.3,315.5]),km=d3.scaleLinear().domain([0,72]).range([391.3,315.5]);
 const g=clipped(lx,top,bot);
 colored(g,lx,y,legWind,i=>windColor(legWind[i]),bot);
 grid(g,lx,y,top,bot,legGridHours,[5,10,15,20]);
 g.selectAll(null).data(legGust.map((d,i)=>[i,d]).filter(d=>d[1])).join("line").attr("x1",d=>lx(d[0])).attr("x2",d=>lx(d[0]+1)).attr("y1",d=>y(d[1])).attr("y2",d=>y(d[1])).attr("stroke",C.red).attr("stroke-width",1.1);
 line(g,lx,y,legWind,C.navy,1.8);
 border(lx,top,bot);
 svg.append("circle").attr("cx",138.5).attr("cy",y(20)).attr("r",1.6).attr("fill",C.red);
 axis("l",y,[0,5,10,15,20],129); axis("r",km,[0,18,36,54,72],256,{anchor:"middle"});
}
{
 const top=398.3,bot=430,g=clipped(lx,top,bot);
 grid(g,lx,null,top,bot,legGridHours,[]);
 border(lx,top,bot);
 arrows(lx,418,legDir,i=>3.3*legWind[i]);
}
{
 const top=436,bot=514,rng=[513.5,494.3,475,456,436.5];
 const y=d3.scaleLinear().domain(baseTicks).range(rng),v=d3.scaleLinear().domain(visTicks).range(rng);
 const g=clipped(lx,top,bot);
 nightShade(g,lx,[5.05,14.03],top,bot);
 grid(g,lx,y,top,bot,legGridHours,[.5,2,7]);
 dots(g,lx,y,pairs(leg01),"#fff",2.7);
 dots(g,lx,y,pairs(leg25),"#d0d0d0",2.7);
 dots(g,lx,y,pairs(leg45),"#909090",2.7);
 dots(g,lx,y,pairs(leg65),"#585858",2.7);
 dots(g,lx,y,pairs(leg79),"#000",2.7);
 dots(g,lx,y,pairs(legTop),"#a82828",2.7);
 line(g,lx,v,legVis,C.vis,1.8);
 border(lx,top,bot);
 axis("l",y,baseTicks,129,{fmt:d3.format(".1f")});
 axis("r",v,visTicks,251,{color:C.vis});
}
{
 const top=523.7,bot=601.3,y=d3.scaleLinear().domain([0,8]).range([600.7,523]),f=d3.scaleLinear().domain([0,1]).range([600.7,523]);
 const g=clipped(lx,top,bot);
 nightShade(g,lx,[5.05,14.03],top,bot);
 const ar=(vals,c)=>g.append("path").datum(pairs(vals)).attr("fill",c).attr("d",d3.area().x(d=>lx(d[0])).y0(bot).y1(d=>y(d[1])));
 ar(legHigh,"#fff"); ar(legMidC,"#909090"); ar(legLow,"#585858"); ar(legVeryLow,"#404040");
 g.selectAll(null).data(legFog).join("rect").attr("x",d=>lx(d[0])-1.5).attr("width",3.2).attr("y",d=>f(d[1])).attr("height",d=>f(0)-f(d[1])).attr("fill",C.fog);
 grid(g,lx,y,top,bot,legGridHours,[2,4,6]);
 border(lx,top,bot);
 axis("l",y,[0,2,4,6,8],129);
 axis("r",f,[0,.25,.5,.75,1],251,{color:C.vis});
}
legTimePos.forEach((p,i)=>{
 txt(lx(p),52,legTimeTop[i],{anchor:"middle",fill:"#111"});
 txt(lx(p),615,legTimeBottom[i],{anchor:"middle",fill:"#111"});
});

/* ---------- legend text ---------- */
const L=[
[6,19,"Czas lokalny"],[6,31,"(CET/CEST)"],
[6,46,"Temperatura gruntu",C.dark],[28,57,"max/min",C.dark],
[6,69,"Temperatura:"],[13,81,"punkt środkowy",C.red],[28,91,"max/min","#f8d8c8"],
[10,103,"odczuwana",C.feels],[28,113,"max/min","#a0d8f8"],[6,125,"Temp. punktu rosy",C.dew],
[6,142,"Opad powyżej skali",C.red],[6,156,"Wilgotność względna",C.rh],[6,170,"Wystąpienie burzy"],
[6,184,"Deszcz: max",C.green],[48,195,"średni",C.green],[6,206,"Śnieg:",C.snow],[48,206,"max",C.snow],[48,217,"średni",C.snow],
[6,228,"Wystąpienie opadu",C.red],[6,241,"konwekcyjnego",C.red],
[5,267,"Ciśnienie"],[5,280,"zredukowane"],[5,293,"do poziomu morza"],
[5,322,"Wiatr na 10m:"],[10,339,"poryw powyżej skali",C.red],[10,353,"max porywy wiatru",C.red],
[10,372,"prędkość wiatru",C.navy],[10,385,"w środku obszaru",C.navy],[10,414,"kierunek wiatru",C.navy],
[6,433,"Wierzchołek chmur",C.dark],[6,449,"Podstawa chmur*"],[6,460,"o pokryciu"],
[11,473,"> 7.9 okt."],[11,484,"> 6.5 okt.","#505050"],[10,495,"> 4.5 okt.","#909090"],[11,505,"> 2.5 okt.","#d8d8d8"],
[6,531,"Widzialność",C.vis],[6,548,"Chmury:"],[10,573,"średnie","#909090"],[10,586,"niskie","#222"],[10,598,"bardzo niskie","#222"],
[6,610,"Mgła","#f4b400"]];
svg.append("rect").attr("x",11).attr("y",505.5).attr("width",44).attr("height",12).attr("fill",C.day);
svg.append("rect").attr("x",10).attr("y",551).attr("width",41).attr("height",13).attr("fill",C.day);
L.forEach(d=>txt(d[0],d[1],d[2],{fill:d[3]||"#000",size:11}));
txt(6,626,"Czas uniwersalny (UTC)",{size:12});
txt(11,516,"> 0.1 okt.",{fill:"#fff",size:11});
txt(11,561,"wysokie",{fill:"#fff",size:11});
txt(5,651,"* powyżej poziomu morza",{size:9.5,weight:700}).attr("fill","#111");

/* ---------- leader lines (reference-crop coordinates /3) ---------- */
function lead(off,c,w,...pts){
 svg.append("polyline").attr("points",pts.map(p=>`${p[0]/3},${off+p[1]/3}`).join(" ")).attr("fill","none").attr("stroke",c).attr("stroke-width",w);
}
lead(0,"#000",1,[203,48],[400,48],[468,135]);
lead(0,C.dark,1,[303,130],[358,130],[465,305]);
lead(0,C.red,1,[275,230],[345,230]); lead(0,C.red,1,[390,228],[405,232],[505,330]);
lead(0,C.feels,1,[210,297],[405,297]);
lead(0,C.dew,1,[282,360],[400,360],[430,340]);
lead(0,C.red,1,[305,412],[410,412],[438,441]);
lead(0,C.rh,1,[318,455],[335,455]); lead(0,C.rh,1,[390,455],[440,490]);
lead(0,"#000",1,[312,498],[340,498]); lead(0,"#000",1,[388,498],[405,505],[416,518]);
lead(0,C.green,1,[215,537],[418,537]);
lead(0,C.green,1,[240,570],[432,570]);
lead(0,C.snow,1,[210,606],[335,606]); lead(0,C.snow,1,[382,606],[482,515]);
lead(0,C.snow,1,[245,637],[392,637],[470,570]);
lead(0,C.red,1,[290,673],[435,673],[440,660]);
lead(225,"#000",1,[155,115],[405,115]);
lead(225,C.red,1,[337,328],[358,328]); lead(225,C.red,1,[390,328],[415,275]);
lead(225,C.red,1,[318,370],[390,370],[445,345]);
lead(225,C.navy,1,[275,427],[415,427]);
lead(225,C.navy,1,[258,555],[420,555]);
lead(225,C.dark,1,[300,615],[400,615],[555,665]);
lead(430,"#000",1,[172,115],[380,115],[575,75]);
lead(430,"#505050",1,[165,152],[430,152]);
lead(430,"#909090",1,[165,182],[390,182],[430,215]);
lead(430,"#d8d8d8",1,[165,212],[405,222]);
lead(430,C.day,3,[170,240],[400,240]); lead(430,"#fff",1,[170,240],[400,240]);
lead(430,C.vis,1,[200,291],[385,291],[515,105]);
lead(430,C.day,3,[160,380],[560,380]); lead(430,"#fff",1,[160,380],[560,380]);
lead(430,"#909090",1,[150,425],[580,425]);
lead(430,"#000",1,[120,456],[360,456]); lead(430,"#000",1,[395,456],[405,456]);
lead(430,"#000",1,[222,492],[450,492]);
lead(430,C.fog,1,[85,525],[650,525],[655,510]);
lead(430,"#000",1,[420,578],[445,578],[472,535]);
</script>
</body></html>
